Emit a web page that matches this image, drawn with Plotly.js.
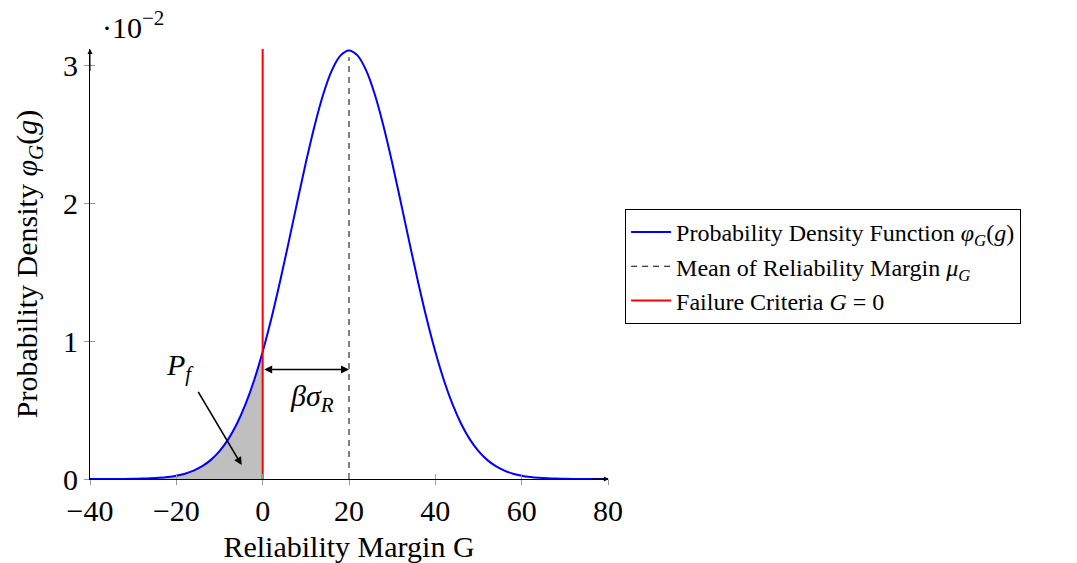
<!DOCTYPE html>
<html><head><meta charset="utf-8">
<script src="https://cdn.plot.ly/plotly-3.0.1.min.js"></script>
<style>body{margin:0;background:#fff}#chart{width:1077px;height:563px}</style>
</head><body><div id="chart"></div>
<script>
// Reliability margin G (x) and density values in units of 10^-2
const gValues = [-40,-38,-36,-34,-32,-30,-28,-26,-24,-22,-20,-18,-16,-14,-12,-10,-8,-6,-4,-2,
  0,2,4,6,8,10,12,14,16,18,20,22,24,26,28,30,32,34,36,38,40,42,44,46,48,50,52,54,56,58,60,
  62,64,66,68,70,72,74,76,78,80];
const pdfValues = [0.0000,0.0001,0.0002,0.0004,0.0008,0.0016,0.0028,0.0050,0.0087,0.0147,
  0.0241,0.0387,0.0607,0.0928,0.1387,0.2020,0.2875,0.399,0.541,0.715,
  0.923,1.162,1.429,1.715,2.008,2.295,2.560,2.788,2.963,3.072,3.110,
  3.072,2.963,2.788,2.560,2.295,2.008,1.715,1.429,1.162,0.923,
  0.715,0.541,0.399,0.2875,0.2020,0.1387,0.0928,0.0607,0.0387,0.0241,
  0.0147,0.0087,0.0050,0.0028,0.0016,0.0008,0.0004,0.0002,0.0001,0.0000];
const failureG = 0;
const meanG = 20;
const yTop = 3.12;
const meanLineTop = 3.06;
const betaArrowY = 0.794;
const xTickVals = [-40,-20,0,20,40,60,80];
const xTickText = ['−40','−20','0','20','40','60','80'];
const yTickVals = [0,1,2,3];
const yTickText = ['0','1','2','3'];

const shadeX = gValues.filter(g => g <= failureG);
const shadeY = pdfValues.slice(0, shadeX.length);

const FONT = 'Liberation Serif, Times New Roman, serif';

const traces = [
  {x: shadeX, y: shadeY, type:'scatter', mode:'lines', fill:'tozeroy', fillcolor:'#bfbfbf',
   line:{width:0, shape:'spline'}, showlegend:false, hoverinfo:'skip'},
  {x: gValues, y: pdfValues, type:'scatter', mode:'lines', line:{color:'#0000ff', width:2, shape:'spline'},
   name:'Probability Density Function <i>φ</i><sub><i>G</i></sub>(<i>g</i>)'},
  {x:[meanG, meanG], y:[0, meanLineTop], type:'scatter', mode:'lines', line:{color:'#000', width:1, dash:'6px,5px'},
   name:'Mean of Reliability Margin <i>μ</i><sub><i>G</i></sub>'},
  {x:[failureG, failureG], y:[0, yTop], type:'scatter', mode:'lines', line:{color:'#ff0000', width:2},
   name:'Failure Criteria <i>G</i> = 0'},
  {x:[0], y:[0], xaxis:'x2', yaxis:'y2', type:'scatter', mode:'markers', marker:{opacity:0}, showlegend:false, hoverinfo:'skip'}
];

const axisBase = {showgrid:false, zeroline:false, showline:true, linecolor:'#000', linewidth:1,
  ticks:'outside', ticklen:5, tickcolor:'#999', tickwidth:1,
  tickfont:{family:FONT, size:30, color:'#000'}};

const layout = {
  width:1077, height:563,
  margin:{l:90, r:469, t:49, b:84},
  paper_bgcolor:'#fff', plot_bgcolor:'#fff',
  font:{family:FONT, color:'#000'},
  xaxis: Object.assign({}, axisBase, {range:[-40,80], tickvals:xTickVals, ticktext:xTickText,
    title:{text:'Reliability Margin G', font:{family:FONT, size:30}, standoff:12}}),
  yaxis: Object.assign({}, axisBase, {range:[0,yTop], tickvals:yTickVals, ticktext:yTickText,
    title:{text:'Probability Density <i>φ</i><sub><i>G</i></sub>(<i>g</i>)', font:{family:FONT, size:30}, standoff:16}}),
  xaxis2: {overlaying:'x', range:[-40,80], tickvals:xTickVals, showticklabels:false, ticks:'inside', ticklen:5,
    tickcolor:'#999', showgrid:false, zeroline:false, showline:false, anchor:'y2'},
  yaxis2: {overlaying:'y', range:[0,yTop], tickvals:yTickVals, showticklabels:false, ticks:'inside', ticklen:5,
    tickcolor:'#999', showgrid:false, zeroline:false, showline:false, anchor:'x2'},
  showlegend:true,
  legend:{x:1.033, y:0.628, xanchor:'left', yanchor:'top', bgcolor:'#fff', bordercolor:'#000', borderwidth:1,
    font:{family:FONT, size:24, color:'#000'}, tracegroupgap:0, itemwidth:40},
  annotations:[
    {xref:'paper', yref:'paper', x:0.02, y:1.055, xanchor:'left', yanchor:'middle', showarrow:false,
     text:'·10<sup>−2</sup>', font:{family:FONT, size:30}},
    {x:-19.15, y:0.81, showarrow:false, text:'<i>P</i><sub><i>f</i></sub>', font:{family:FONT, size:30}},
    {x:-4.86, y:0.101, ax:-15.14, ay:0.643, axref:'x', ayref:'y', text:'', showarrow:true,
     arrowhead:2, arrowsize:1, arrowwidth:1.6, arrowcolor:'#000'},
    {x:meanG, y:betaArrowY, ax:failureG, ay:betaArrowY, axref:'x', ayref:'y', text:'', showarrow:true,
     arrowside:'end+start', arrowhead:2, startarrowhead:2, arrowsize:1, startarrowsize:1, arrowwidth:1.6, arrowcolor:'#000'},
    {x:11.4, y:0.585, showarrow:false, text:'<i>βσ</i><sub><i>R</i></sub>', font:{family:FONT, size:30}},
    {x:80.2, y:0, ax:76, ay:0, axref:'x', ayref:'y', text:'', showarrow:true, arrowhead:2, arrowsize:1, arrowwidth:1, arrowcolor:'#000'},
    {x:-40, y:yTop, ax:-40, ay:2.95, axref:'x', ayref:'y', text:'', showarrow:true, arrowhead:2, arrowsize:1, arrowwidth:1, arrowcolor:'#000'}
  ]
};

Plotly.newPlot('chart', traces, layout, {displayModeBar:false, staticPlot:true});
</script>
</body></html>
